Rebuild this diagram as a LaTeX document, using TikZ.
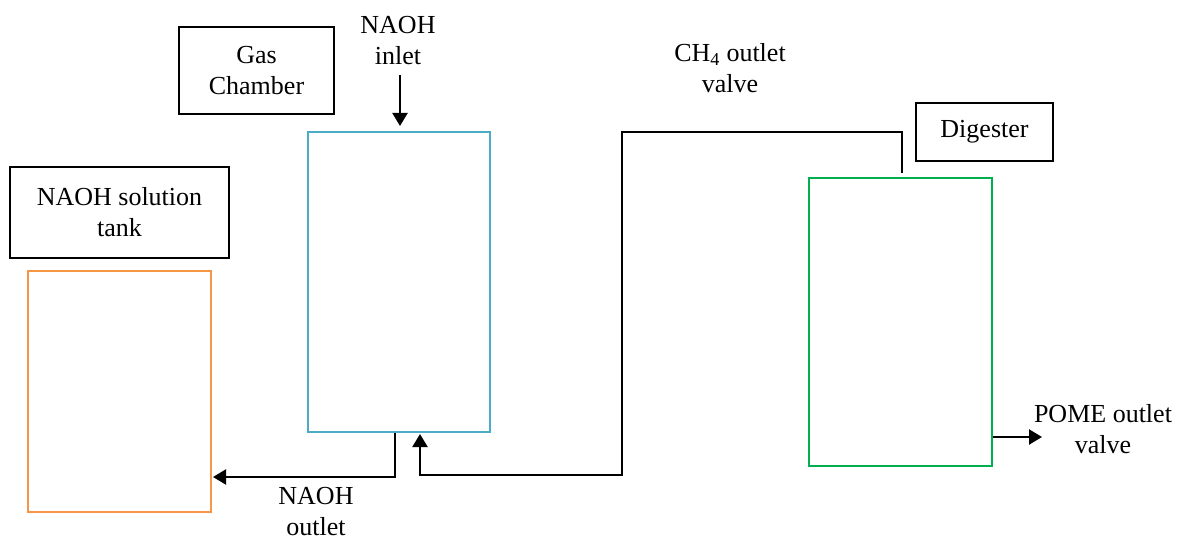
\documentclass[tikz,border=0pt]{standalone}
\usepackage{fontspec}
\setmainfont{Liberation Serif}
\usetikzlibrary{arrows.meta}
\definecolor{tankorange}{HTML}{F79646}
\definecolor{chamberblue}{HTML}{4BACC6}
\definecolor{digestgreen}{HTML}{00B050}
\begin{document}
\begin{tikzpicture}[x=1pt,y=-1pt,
  vessel/.style={draw, line width=2pt, inner sep=0pt},
  labelbox/.style={draw=black, line width=1.6pt, inner sep=0pt, align=center, font=\fontsize{26}{31}\selectfont},
  lbl/.style={inner sep=0pt, align=center, font=\fontsize{26}{31}\selectfont},
  pipe/.style={draw=black, line width=2.2pt},
  arr/.style={pipe, -{Triangle[length=13pt,width=15pt]}}]
\useasboundingbox (0,0) rectangle (1193,540);
% vessels
\node[vessel, draw=tankorange, minimum width=183pt, minimum height=241pt] (tank) at (119.5,391.5) {};
\node[vessel, draw=chamberblue, minimum width=182pt, minimum height=300pt] (gas) at (399,282) {};
\node[vessel, draw=digestgreen, minimum width=183pt, minimum height=288pt] (dig) at (900.5,322) {};
% label boxes
\node[labelbox, minimum width=219pt, minimum height=91pt] (tanklbl) at (119.5,212.5) {NAOH solution\\tank};
\node[labelbox, minimum width=155pt, minimum height=87pt] (gaslbl) at (256.5,70.5) {Gas\\Chamber};
\node[labelbox, minimum width=137pt, minimum height=58pt] (diglbl) at (984.5,132) {Digester};
% free labels
\node[lbl] (inlet) at (398,41) {NAOH\\inlet};
\node[lbl] (ch4) at (730,68.6) {CH\textsubscript{4} outlet\\valve};
\node[lbl] (pome) at (1103,429.6) {POME outlet\\valve};
\node[lbl] (outlet) at (316,512) {NAOH\\outlet};
% connectors
\coordinate (inlettop) at (400,75);
\coordinate (ch4top) at (622,132);
\coordinate (ch4low) at (420,475);
\coordinate (outy) at (0,477);
\draw[arr] (inlettop) -- ([xshift=1pt,yshift=5pt]gas.north);
\draw[arr] ([xshift=1.5pt,yshift=4pt]dig.north) |- (ch4top) |- (ch4low) -- ([xshift=21pt,yshift=-1pt]gas.south);
\draw[arr] ([xshift=-4pt]gas.south) |- ([xshift=1pt]tank.east |- outy);
\draw[arr] ([yshift=-115pt]dig.east) -- ++(49,0);
\end{tikzpicture}
\end{document}
